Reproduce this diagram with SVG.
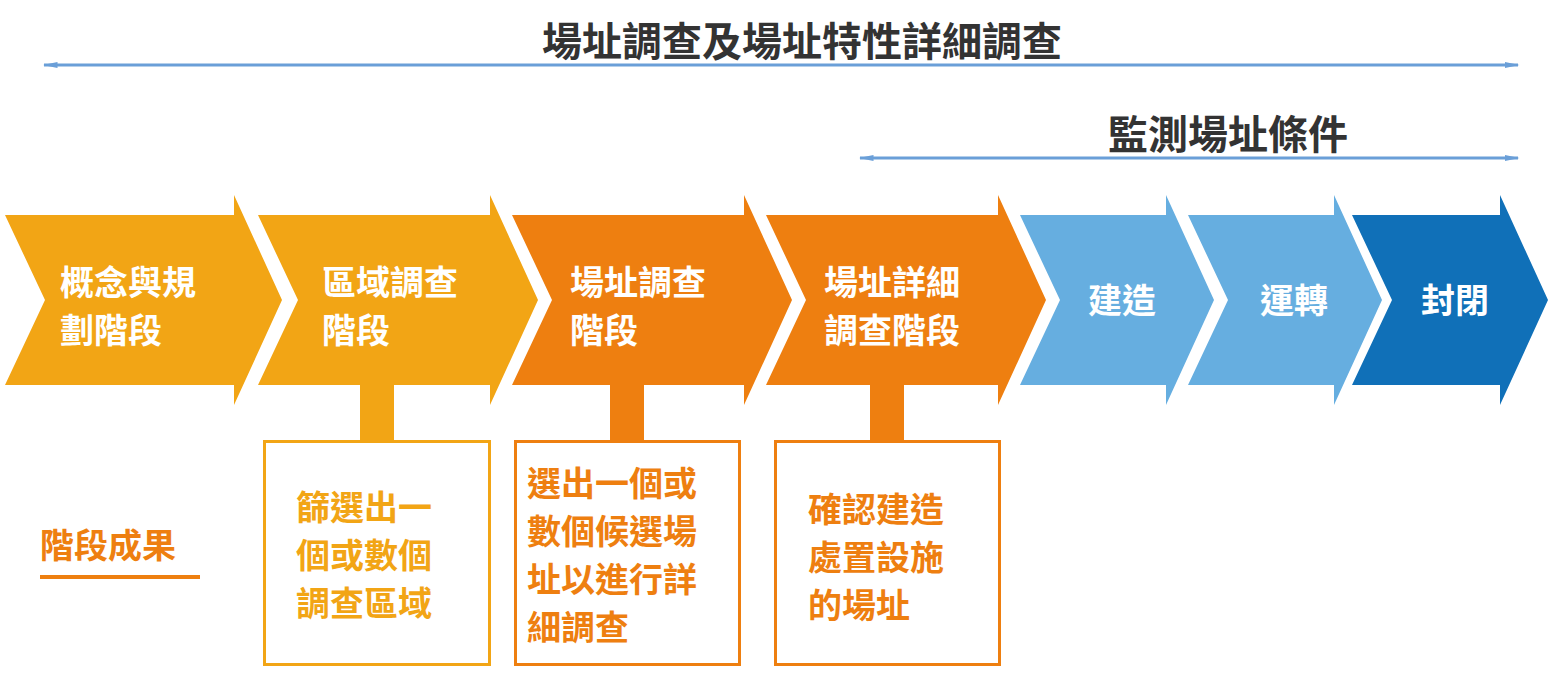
<svg xmlns="http://www.w3.org/2000/svg" width="1554" height="676" viewBox="0 0 1554 676">
<style>
text{font-family:"Noto Sans CJK TC","Noto Sans CJK SC",sans-serif;font-weight:bold}
.w{fill:#fff;font-size:34px}
.o{fill:#EE7F10;font-size:34px}
.y{fill:#F2A515;font-size:34px}
.t{fill:#333;font-size:40px}
.ln{stroke:#6A9FD8;stroke-width:3;fill:none}
</style>
<defs>
<marker id="ah" viewBox="0 0 10 10" refX="9" refY="5" markerWidth="15" markerHeight="6" markerUnits="userSpaceOnUse" orient="auto-start-reverse" preserveAspectRatio="none"><path d="M0,0L10,5L0,10z" fill="#6A9FD8"/></marker>
</defs>
<rect width="1554" height="676" fill="#fff"/>
<g id="connectors">
<line class="ln" x1="44" y1="65" x2="1518" y2="65" marker-start="url(#ah)" marker-end="url(#ah)"/>
<line class="ln" x1="860" y1="158" x2="1518" y2="158" marker-start="url(#ah)" marker-end="url(#ah)"/>
<rect x="360" y="385" width="34" height="56" fill="#F2A515"/>
<rect x="610" y="385" width="34" height="56" fill="#EE7F10"/>
<rect x="870" y="385" width="34" height="56" fill="#EE7F10"/>
</g>
<g id="titles">
<text class="t" x="802" y="56" text-anchor="middle">場址調查及場址特性詳細調查</text>
<text class="t" x="1228" y="149" text-anchor="middle">監測場址條件</text>
</g>
<g id="s1"><path d="M5,215H234V195L282,300L234,405V385H5L45,300z" fill="#F2A515"/><text class="w" x="60" y="295">概念與規</text><text class="w" x="60" y="343">劃階段</text></g>
<g id="s2"><path d="M258,215H490V195L538,300L490,405V385H258L298,300z" fill="#F2A515"/><text class="w" x="322" y="295">區域調查</text><text class="w" x="322" y="343">階段</text></g>
<g id="s3"><path d="M512,215H744V195L792,300L744,405V385H512L552,300z" fill="#EE7F10"/><text class="w" x="570" y="295">場址調查</text><text class="w" x="570" y="343">階段</text></g>
<g id="s4"><path d="M766,215H998V195L1046,300L998,405V385H766L806,300z" fill="#EE7F10"/><text class="w" x="824" y="295">場址詳細</text><text class="w" x="824" y="343">調查階段</text></g>
<g id="s5"><path d="M1020,215H1166V195L1214,300L1166,405V385H1020L1060,300z" fill="#66AEE0"/><text class="w" x="1122" y="313" text-anchor="middle">建造</text></g>
<g id="s6"><path d="M1188,215H1334V195L1382,300L1334,405V385H1188L1228,300z" fill="#66AEE0"/><text class="w" x="1294" y="313" text-anchor="middle">運轉</text></g>
<g id="s7"><path d="M1352,215H1500V195L1548,300L1500,405V385H1352L1392,300z" fill="#1070B8"/><text class="w" x="1455" y="313" text-anchor="middle">封閉</text></g>
<g id="b1"><rect x="264.5" y="441.5" width="225" height="223" fill="#fff" stroke="#F2A515" stroke-width="3"/><text class="y" x="296" y="520">篩選出一</text><text class="y" x="296" y="568">個或數個</text><text class="y" x="296" y="616">調查區域</text></g>
<g id="b2"><rect x="515.5" y="441.5" width="224" height="223" fill="#fff" stroke="#EE7F10" stroke-width="3"/><text class="o" x="527" y="496">選出一個或</text><text class="o" x="527" y="544">數個候選場</text><text class="o" x="527" y="592">址以進行詳</text><text class="o" x="527" y="640">細調查</text></g>
<g id="b3"><rect x="775.5" y="441.5" width="224" height="223" fill="#fff" stroke="#EE7F10" stroke-width="3"/><text class="o" x="808" y="522">確認建造</text><text class="o" x="808" y="570">處置設施</text><text class="o" x="808" y="618">的場址</text></g>
<g id="legend"><text class="o" x="40" y="558">階段成果</text><rect x="40" y="575" width="160" height="4" fill="#EE7F10"/></g>
</svg>
